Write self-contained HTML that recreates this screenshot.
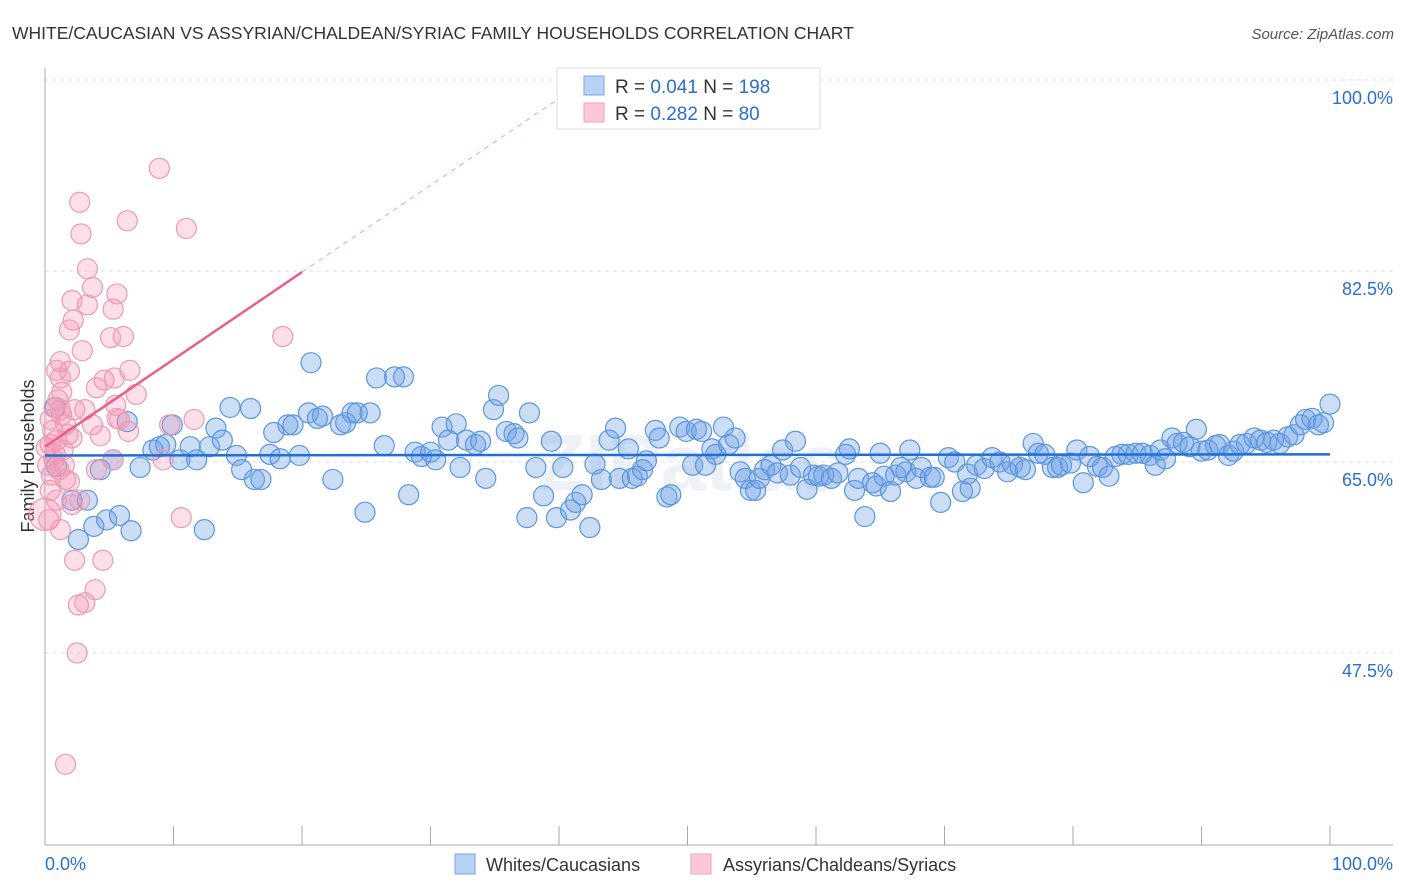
<!DOCTYPE html>
<html><head><meta charset="utf-8"><style>
body{margin:0;background:#fff;font-family:"Liberation Sans",sans-serif;}
#wrap{position:relative;width:1406px;height:892px;overflow:hidden}
</style></head><body>
<div id="wrap">
<svg id="svg" width="1406" height="892" font-family="Liberation Sans, sans-serif">
<text x="12" y="39" font-size="17.5" fill="#333">WHITE/CAUCASIAN VS ASSYRIAN/CHALDEAN/SYRIAC FAMILY HOUSEHOLDS CORRELATION CHART</text>
<text x="1394" y="39" font-size="15" fill="#555" font-style="italic" text-anchor="end">Source: ZipAtlas.com</text>
<text x="34" y="456" font-size="18" fill="#333" text-anchor="middle" transform="rotate(-90 34 456)">Family Households</text>
<text x="690" y="490" font-size="80" fill="#e4e8ef" font-weight="bold" text-anchor="middle" opacity="0.6">ZIPatlas</text>
<g id="grid"></g><g id="pts"></g><g id="lines"></g>
<g>
<rect x="557" y="68" width="263" height="61" fill="#fff" stroke="#ddd"/>
<rect x="584" y="76" width="20" height="19" fill="#b8d2f5" stroke="#7aa6e6"/>
<rect x="584" y="103" width="20" height="19" fill="#fcc8d8" stroke="#f0a0b8"/>
<text x="615" y="93" font-size="19" fill="#333">R = <tspan fill="#2a6fd0">0.041</tspan>   N = <tspan fill="#2a6fd0">198</tspan></text>
<text x="615" y="120" font-size="19" fill="#333">R = <tspan fill="#2a6fd0">0.282</tspan>   N = <tspan fill="#2a6fd0"> 80</tspan></text>
</g>
<g>
<rect x="455" y="854" width="20" height="20" fill="#b8d2f5" stroke="#7aa6e6"/>
<text x="486" y="871" font-size="18" fill="#333">Whites/Caucasians</text>
<rect x="691" y="854" width="20" height="20" fill="#fcc8d8" stroke="#f0a0b8"/>
<text x="723" y="871" font-size="18" fill="#333">Assyrians/Chaldeans/Syriacs</text>
</g>
<text x="45" y="870" font-size="18" fill="#2a6fd0">0.0%</text>
<text x="1393" y="870" font-size="18" fill="#2a6fd0" text-anchor="end">100.0%</text>
</svg></div>
<script>
const yTicks=[100,82.5,65,47.5];
const yTickLabels=["100.0%","82.5%","65.0%","47.5%"];
const xTicks=[0,10,20,30,40,50,60,70,80,90,100];
const blueX=[0.8,0.9,3.3,2.1,2.6,3.8,4.8,5.8,6.7,12.4,4.3,7.4,6.4,5.3,8.4,8.9,9.4,9.9,10.5,11.3,11.8,12.8,13.3,13.8,14.4,14.9,15.3,16.0,16.3,16.8,17.5,17.8,18.3,18.9,19.3,19.8,20.5,21.2,21.6,22.4,23.0,23.4,23.9,24.3,24.9,25.3,25.8,26.4,27.2,27.9,28.3,28.8,29.3,30.0,30.4,30.9,31.4,32.0,32.3,32.8,33.5,33.9,34.3,34.9,35.3,35.9,36.5,36.8,37.5,37.7,38.2,38.8,39.4,39.8,40.3,40.9,41.3,41.8,42.4,42.8,43.3,43.9,44.4,44.7,45.4,45.7,46.1,46.5,46.8,47.5,47.8,48.4,48.7,49.4,49.9,50.4,50.7,51.1,51.4,51.9,52.2,52.8,53.2,53.7,54.1,54.5,54.9,55.3,55.6,56.0,56.5,57.0,57.4,58.0,58.4,58.8,59.3,59.8,60.2,60.6,61.2,61.7,62.3,62.6,63.0,63.3,63.8,64.4,64.7,65.0,65.3,65.8,66.2,66.6,67.0,67.3,67.8,68.2,68.9,69.2,69.7,70.3,70.8,71.4,71.8,72.0,72.5,73.1,73.7,74.3,74.9,75.3,75.9,76.3,76.9,77.3,77.8,78.4,78.8,79.1,79.8,80.3,80.8,81.3,81.9,82.3,82.8,83.3,83.8,84.3,84.9,85.4,86.0,86.4,86.8,87.2,87.7,88.1,88.6,89.1,89.6,90.0,90.5,91.1,91.4,92.1,92.5,93.0,93.5,94.1,94.6,95.1,95.6,96.1,96.7,97.2,97.7,98.1,98.6,99.1,99.5,100,20.7];
const blueY=[70.0,64.6,61.5,61.5,57.9,59.1,59.7,60.1,58.7,58.8,64.3,64.5,68.7,65.2,66.1,66.4,66.6,68.4,65.2,66.4,65.2,66.4,68.1,67.0,70.0,65.6,64.3,69.9,63.4,63.4,65.7,67.7,65.3,68.4,68.4,65.6,69.5,69.0,69.2,63.4,68.4,68.6,69.5,69.5,60.4,69.5,72.7,66.5,72.8,72.8,62.0,65.9,65.5,65.9,65.2,68.2,67.0,68.5,64.5,67.0,66.6,66.9,63.5,69.8,71.1,67.8,67.6,67.2,59.9,69.5,64.5,61.9,66.9,59.9,64.5,60.6,61.3,62.0,59.0,64.8,63.4,67.0,68.1,63.5,66.2,63.5,63.7,64.3,65.1,67.9,67.2,61.8,62.0,68.2,67.8,64.7,68.0,67.8,64.7,66.2,65.7,68.2,66.6,67.2,64.1,63.5,62.4,62.4,63.5,64.3,64.7,64.0,66.1,63.8,66.9,64.5,62.5,63.8,63.7,63.8,63.5,64.0,65.7,66.2,62.4,63.5,60.0,63.1,62.8,65.8,63.7,62.3,63.8,64.5,64.1,66.1,63.5,64.5,63.6,63.6,61.3,65.4,65.0,62.3,63.9,62.6,64.7,64.4,65.4,65.0,64.1,64.8,64.5,64.3,66.7,65.8,65.7,64.5,64.5,64.7,64.9,66.1,63.1,65.5,64.6,64.5,63.7,65.5,65.7,65.7,65.8,65.8,65.6,64.7,66.1,65.3,67.2,66.7,66.8,66.4,68.0,66.0,66.1,66.5,66.6,65.6,66.0,66.6,66.7,67.2,67.0,66.8,67.0,66.7,67.3,67.5,68.4,68.9,69.0,68.4,68.6,70.3,74.1];
const pinkX=[8.9,2.7,2.8,6.4,11.0,3.3,3.7,5.6,2.1,3.3,5.3,2.2,1.9,6.1,5.1,2.9,1.2,0.9,1.9,6.6,4.6,5.4,4.0,1.3,7.1,0.7,1.2,2.3,3.1,5.5,5.8,1.6,3.7,0.6,1.8,4.3,0.9,0.4,1.4,0.7,0.2,1.1,0.5,1.9,1.6,4.0,5.3,9.2,0.4,0.9,2.1,2.7,1.2,2.3,4.5,3.9,2.6,3.1,2.5,1.6,18.5,11.6,10.6,9.7,5.6,6.5,0.3,0.0,1.0,0.4,1.3,0.8,1.5,2.1,0.1,1.2];
const pinkY=[91.9,88.8,85.9,87.1,86.4,82.7,81.0,80.4,79.8,79.4,79.0,78.0,77.1,76.5,76.4,75.2,74.2,73.4,73.3,73.4,72.5,72.7,71.8,71.4,71.2,70.0,69.8,69.8,69.8,70.2,68.9,68.4,68.4,67.9,67.5,67.4,67.0,66.6,66.1,65.2,64.7,64.3,63.8,63.2,63.4,64.3,65.2,65.2,62.4,61.5,61.1,61.5,58.8,56.0,56.0,53.3,51.9,52.1,47.5,37.3,76.5,68.9,59.9,68.4,69.0,67.8,59.7,60.2,70.7,68.9,69.3,65.7,64.7,67.2,66.3,72.7];
const blueFit=[65.6,65.7];
const pinkFit=[66.4,82.4,99.5];
const NS="http://www.w3.org/2000/svg";
const X=v=>45+v*12.85, Y=v=>80+(100-v)*10.914;
function mk(t,a,p){const e=document.createElementNS(NS,t);for(const k in a)e.setAttribute(k,a[k]);p.appendChild(e);return e;}
const grid=document.getElementById('grid'),pts=document.getElementById('pts'),lines=document.getElementById('lines');
yTicks.forEach((t,i)=>{
 const l=mk('line',{x1:45,x2:1393,y1:Y(t),y2:Y(t),stroke:'#ddd','stroke-dasharray':'4,4'},grid);
 
 
 const tx=mk('text',{x:1393,y:Y(t)+24,'font-size':18,fill:'#2a6fd0','text-anchor':'end'},grid);
 tx.textContent=yTickLabels[i];
 
 
});
const ax=mk('line',{x1:45,x2:45,y1:68,y2:845,stroke:'#aaa'},grid);


const bx=mk('line',{x1:45,x2:1393,y1:845,y2:845,stroke:'#aaa'},grid);


xTicks.forEach(t=>{
 const l=mk('line',{x1:X(t),x2:X(t),y1:826,y2:845,stroke:'#aaa'},grid);
 
 
});
blueX.forEach((v,i)=>{
 const c=mk('circle',{cx:X(v),cy:Y(blueY[i]),r:10,fill:'rgba(110,160,230,0.35)',stroke:'#5a95de','stroke-width':1.2},pts);
 
 
});
pinkX.forEach((v,i)=>{
 const c=mk('circle',{cx:X(v),cy:Y(pinkY[i]),r:v===0?16:10,fill:'rgba(245,150,180,0.3)',stroke:'#ec9ab4','stroke-width':1.2},pts);
 
 
});
const bl=mk('line',{x1:X(0),x2:X(100),y1:Y(blueFit[0]),y2:Y(blueFit[1]),stroke:'#1f6fd6','stroke-width':2.5},lines);


const pl=mk('line',{x1:X(0),x2:X(20),y1:Y(pinkFit[0]),y2:Y(pinkFit[1]),stroke:'#e8608a','stroke-width':2.5},lines);


const pd=mk('line',{x1:X(20),x2:X(41.5),y1:Y(pinkFit[1]),y2:Y(pinkFit[2]),stroke:'#f0a0b8','stroke-width':1,'stroke-dasharray':'5,5'},lines);


</script>
</body></html>
